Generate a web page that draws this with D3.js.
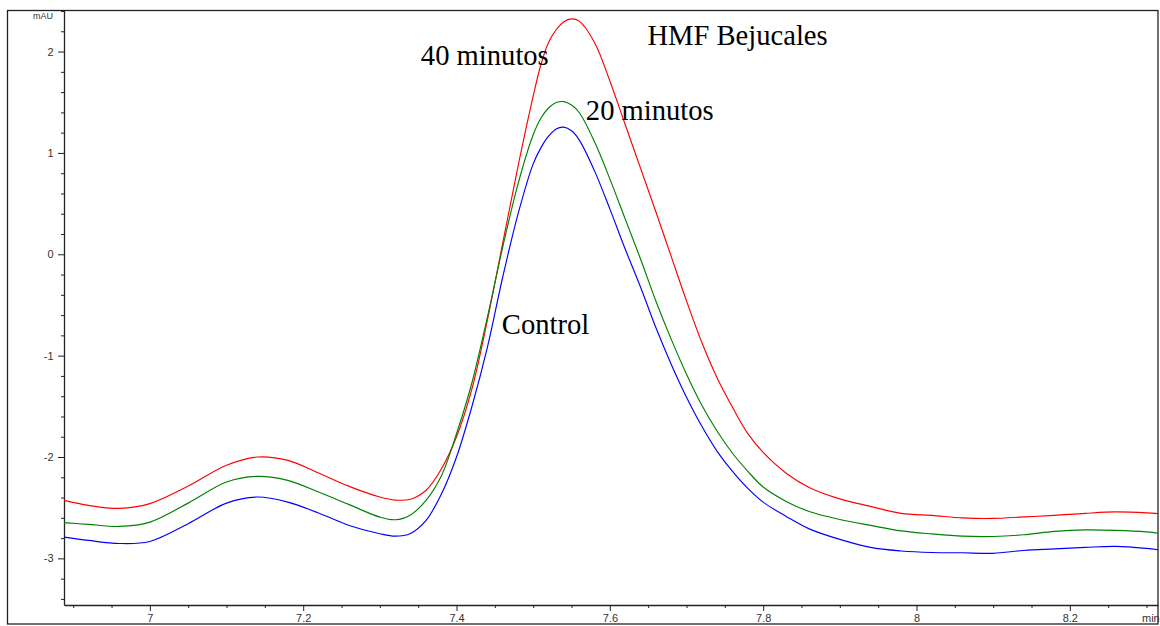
<!DOCTYPE html>
<html>
<head>
<meta charset="utf-8">
<script src="https://cdn.jsdelivr.net/npm/d3@7"></script>
<style>
  html, body { margin: 0; padding: 0; background: #fff; }
  svg { display: block; }
</style>
</head>
<body>
<svg id="chart" width="1160" height="626"></svg>
<script>
// ---- data (time in min, absorbance in mAU) ----
const times = [6.888, 6.92, 6.96, 7.0, 7.05, 7.1, 7.14, 7.18, 7.22, 7.26,
  7.30, 7.32, 7.34, 7.36, 7.38, 7.40, 7.42, 7.44, 7.46, 7.48,
  7.50, 7.51, 7.52, 7.53, 7.54, 7.55, 7.56, 7.58, 7.60, 7.62,
  7.64, 7.66, 7.68, 7.70, 7.72, 7.74, 7.76, 7.78, 7.80, 7.83,
  7.86, 7.90, 7.94, 7.98, 8.02, 8.06, 8.10, 8.14, 8.18, 8.22,
  8.26, 8.30, 8.315];

const min40 = [-2.428, -2.477, -2.507, -2.460, -2.287, -2.082, -2.000, -2.033, -2.158, -2.290,
  -2.395, -2.425, -2.416, -2.330, -2.120, -1.800, -1.330, -0.660, 0.100, 0.860,
  1.560, 1.870, 2.090, 2.215, 2.295, 2.322, 2.300, 2.090, 1.710, 1.280,
  0.850, 0.420, -0.020, -0.460, -0.870, -1.220, -1.510, -1.770, -1.955, -2.160,
  -2.300, -2.413, -2.487, -2.556, -2.576, -2.601, -2.606, -2.591, -2.576, -2.556,
  -2.542, -2.551, -2.559];

const min20 = [-2.648, -2.665, -2.685, -2.642, -2.455, -2.247, -2.191, -2.230, -2.346, -2.470,
  -2.593, -2.619, -2.571, -2.430, -2.190, -1.770, -1.270, -0.629, 0.062, 0.688,
  1.179, 1.342, 1.443, 1.497, 1.506, 1.472, 1.399, 1.110, 0.744, 0.349,
  -0.046, -0.461, -0.837, -1.183, -1.489, -1.746, -1.963, -2.141, -2.296, -2.438,
  -2.537, -2.616, -2.675, -2.729, -2.759, -2.781, -2.784, -2.767, -2.734, -2.719,
  -2.724, -2.739, -2.751];

const control = [-2.791, -2.823, -2.853, -2.833, -2.658, -2.455, -2.395, -2.445, -2.553, -2.675,
  -2.757, -2.781, -2.754, -2.628, -2.370, -2.000, -1.504, -0.926, -0.234, 0.391,
  0.892, 1.050, 1.165, 1.237, 1.254, 1.218, 1.129, 0.823, 0.448, 0.052,
  -0.323, -0.723, -1.084, -1.410, -1.697, -1.944, -2.141, -2.309, -2.445, -2.586,
  -2.709, -2.813, -2.892, -2.927, -2.942, -2.945, -2.950, -2.922, -2.907, -2.892,
  -2.882, -2.902, -2.915];

const seriesNames = ["40 minutos", "20 minutos", "Control"];
const seriesColors = ["#ff0000", "#008000", "#0000ff"];

const xTickValues = [7, 7.2, 7.4, 7.6, 7.8, 8, 8.2];
const yTickValues = [-3, -2, -1, 0, 1, 2];

const xDomain = [6.888, 8.315];
const yDomain = [-3.46, 2.41];

// ---- drawing ----
const svg = d3.select("#chart");
const plotLeft = 64, plotRight = 1158, plotTop = 10, plotBottom = 605;

const x = d3.scaleLinear().domain(xDomain).range([plotLeft, plotRight]);
const y = d3.scaleLinear().domain(yDomain).range([plotBottom, plotTop]);

// outer frame
svg.append("rect")
  .attr("x", 7.5).attr("y", 10.5)
  .attr("width", 1150.5).attr("height", 613.5)
  .attr("fill", "none").attr("stroke", "#222").attr("stroke-width", 1.3);

const axisColor = "#222";
const labelFont = "Liberation Sans, Arial, sans-serif";

// minor ticks
const xMinor = d3.range(6.9, 8.316, 0.05).filter(v => !xTickValues.some(t => Math.abs(t - v) < 1e-6));
const yMinor = d3.range(-3.4, 2.41, 0.2).filter(v => !yTickValues.some(t => Math.abs(t - v) < 1e-6));

svg.append("defs").append("clipPath").attr("id", "plotclip")
  .append("rect").attr("x", plotLeft).attr("y", plotTop)
  .attr("width", plotRight - plotLeft).attr("height", plotBottom - plotTop);

// x axis
const xAxis = d3.axisBottom(x).tickValues(xTickValues).tickSize(6).tickSizeOuter(0)
  .tickFormat(d => String(+d.toFixed(1)));
const gx = svg.append("g").attr("transform", `translate(0,${plotBottom})`).call(xAxis);
gx.select(".domain").attr("stroke", axisColor).attr("stroke-width", 1.3);
gx.selectAll(".tick line").attr("stroke", axisColor);
gx.selectAll(".tick text").attr("font-family", labelFont).attr("font-size", 11).attr("fill", "#333").attr("dy", "0.62em").attr("y", 10.5);
gx.selectAll(".minor").data(xMinor).enter().append("line").attr("class", "minor")
  .attr("x1", d => x(d) + 0.5).attr("x2", d => x(d) + 0.5)
  .attr("y1", 0).attr("y2", 3).attr("stroke", axisColor);

svg.append("text").attr("x", 1142).attr("y", 622)
  .attr("font-family", labelFont).attr("font-size", 11).attr("fill", "#333").text("min");

// y axis
const yAxis = d3.axisLeft(y).tickValues(yTickValues).tickSize(6).tickSizeOuter(0)
  .tickFormat(d => String(d));
const gy = svg.append("g").attr("transform", `translate(${plotLeft},0)`).call(yAxis);
gy.select(".domain").attr("stroke", axisColor).attr("stroke-width", 1.3);
gy.selectAll(".tick line").attr("stroke", axisColor);
gy.selectAll(".tick text").attr("font-family", labelFont).attr("font-size", 11).attr("fill", "#333").attr("x", -10.5);
gy.selectAll(".minor").data(yMinor).enter().append("line").attr("class", "minor")
  .attr("y1", d => y(d) + 0.5).attr("y2", d => y(d) + 0.5)
  .attr("x1", 0).attr("x2", -3).attr("stroke", axisColor);

svg.append("text").attr("x", 53).attr("y", 19).attr("text-anchor", "end")
  .attr("font-family", labelFont).attr("font-size", 9).attr("fill", "#333").text("mAU");

// lines
const seriesValues = [min40, min20, control];
const line = d3.line().x(d => x(d[0])).y(d => y(d[1])).curve(d3.curveCatmullRom.alpha(0.5));
const gl = svg.append("g").attr("clip-path", "url(#plotclip)");
seriesValues.forEach((vals, i) => {
  gl.append("path")
    .datum(times.map((t, k) => [t, vals[k]]))
    .attr("d", line)
    .attr("fill", "none")
    .attr("stroke", seriesColors[i])
    .attr("stroke-width", 1.15);
});

// annotations
const annFont = "Liberation Serif, 'Times New Roman', serif";
const annotations = [
  { text: "HMF Bejucales", t: 7.649, v: 2.068 },
  { text: "40 minutos", t: 7.3535, v: 1.871 },
  { text: "20 minutos", t: 7.5687, v: 1.328 },
  { text: "Control", t: 7.4591, v: -0.788 }
];
svg.selectAll(".ann").data(annotations).enter().append("text").attr("class", "ann")
  .attr("x", d => x(d.t)).attr("y", d => y(d.v))
  .attr("font-family", annFont).attr("font-size", 28.6).attr("fill", "#000")
  .text(d => d.text);
</script>
</body>
</html>
